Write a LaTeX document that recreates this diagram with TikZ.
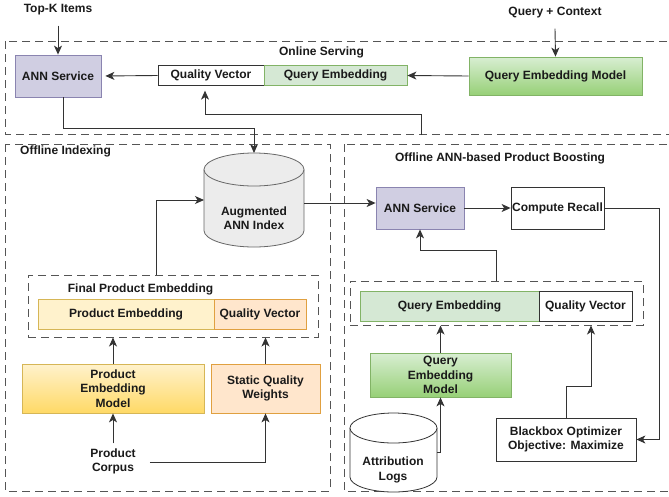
\documentclass[tikz,border=0pt]{standalone}
\usepackage{fontspec}
\setmainfont{Liberation Sans}
\usetikzlibrary{arrows.meta,calc}
\definecolor{txtc}{HTML}{1A1A1A}
\definecolor{linec}{HTML}{333333}
\definecolor{dashc}{HTML}{555555}
\definecolor{lav}{HTML}{D0CEE2}
\definecolor{lavd}{HTML}{8A84B0}
\definecolor{grnf}{HTML}{D5E8D4}
\definecolor{grnd}{HTML}{82B366}
\definecolor{grnt}{HTML}{D8EED2}
\definecolor{grnb}{HTML}{97D077}
\definecolor{yelf}{HTML}{FFF2CC}
\definecolor{yeld}{HTML}{D6B656}
\definecolor{yelb}{HTML}{FFD966}
\definecolor{orgf}{HTML}{FFE6CC}
\definecolor{orgd}{HTML}{E0A040}
\definecolor{cylg}{HTML}{ECECEC}
\definecolor{cyld}{HTML}{666666}
\newcommand\mycyl[7]{% x1 x2 y1 y2 ry fill draw
  \pgfmathsetmacro\cxa{#1}\pgfmathsetmacro\cxb{#2}%
  \pgfmathsetmacro\cxc{(#1+#2)/2}\pgfmathsetmacro\crx{(#2-#1)/2}%
  \pgfmathsetmacro\cyt{#3+#5}\pgfmathsetmacro\cyb{#4-#5}%
  \pgfmathsetmacro\kx{0.5523*\crx}\pgfmathsetmacro\ky{0.5523*#5}%
  \pgfmathsetmacro\cybk{\cyb+\ky}%
  \fill[#6] (\cxa,\cyt) -- (\cxa,\cyb) .. controls (\cxa,\cybk) and (\cxc-\kx,#4) .. (\cxc,#4) .. controls (\cxc+\kx,#4) and (\cxb,\cybk) .. (\cxb,\cyb) -- (\cxb,\cyt) -- cycle;
  \draw[#7, line width=0.8pt] (\cxa,\cyt) -- (\cxa,\cyb) .. controls (\cxa,\cybk) and (\cxc-\kx,#4) .. (\cxc,#4) .. controls (\cxc+\kx,#4) and (\cxb,\cybk) .. (\cxb,\cyb) -- (\cxb,\cyt);
  \draw[#7, fill=#6, line width=0.8pt] (\cxc,\cyt) ellipse [x radius=\crx, y radius=#5];
}
\begin{document}
\begin{tikzpicture}[x=1pt,y=-1pt,
  txt/.style={font=\fontsize{12}{14.5}\selectfont\bfseries, text=txtc, align=center, inner sep=0pt},
  box/.style={txt, draw, line width=0.8pt},
  anchorbox/.style={inner sep=0pt, outer sep=0pt},
  conn/.style={draw=linec, line width=0.9pt, -{Stealth[length=9pt,width=8pt,inset=2.5pt]}},
  region/.style={draw=dashc, line width=1pt, dash pattern=on 8pt off 5pt},
]
\useasboundingbox (0,0) rectangle (669,496);
\fill[white] (0,0) rectangle (669,496);

% regions
\draw[region] (5,41) rectangle (672,134);
\draw[region] (5,144) rectangle (330,491);
\draw[region] (344,144) rectangle (672,491);
\node[txt] (lonl) at (321.5,52) {Online Serving};
\node[txt, anchor=west] (loff) at (20,151) {Offline Indexing};
\node[txt] (lboost) at (500,158) {Offline ANN-based Product Boosting};

% top texts
\node[txt] (topk) at (58,10) {Top-K Items};
\node[txt] (qc) at (555,13) {Query + Context};

% online serving
\node[box, fill=lav, draw=lavd, minimum width=86, minimum height=42] (ann1) at (58,76) {ANN Service};
\node[box, fill=white, draw=linec, minimum width=106, minimum height=19.5] (qv1) at (211,75.5) {Quality Vector};
\node[box, fill=grnf, draw=grnd, minimum width=143, minimum height=19.5] (qe1) at (335.5,75.5) {Query Embedding};
\node[box, top color=grnt, bottom color=grnb, draw=grnd, minimum width=173, minimum height=38] (qem1) at (555.5,76) {Query Embedding Model};
\coordinate (c1) at (421,135);

% offline indexing
\mycyl{204}{304}{153}{247}{16.5}{cylg}{cyld}
\node[anchorbox, minimum width=100, minimum height=94] (cyl1) at (254,200) {};
\node[txt] (cyl1t) at (254,218) {Augmented\\ANN Index};
\node[region, minimum width=290, minimum height=62, inner sep=0pt] (grp1) at (173,306) {};
\node[txt] (lfpe) at (140.5,289) {Final Product Embedding};
\node[box, fill=yelf, draw=yeld, minimum width=176, minimum height=30] (pe) at (126,314) {Product Embedding};
\node[box, fill=orgf, draw=orgd, minimum width=92, minimum height=30] (qv3) at (260,314) {Quality Vector};
\node[box, top color=yelf, bottom color=yelb, draw=yeld, minimum width=182, minimum height=49] (pem) at (113,388.5) {Product\\Embedding\\Model};
\node[box, fill=orgf, draw=orgd, minimum width=109, minimum height=49] (sqw) at (265.5,388.5) {Static Quality\\Weights};
\node[txt] (pc) at (113,461.5) {Product\\Corpus};

% offline boosting
\node[box, fill=lav, draw=lavd, minimum width=88, minimum height=42] (ann2) at (420,208) {ANN Service};
\node[box, fill=white, draw=linec, minimum width=93, minimum height=42] (cr) at (557.5,208) {Compute Recall};
\node[region, minimum width=293, minimum height=44, inner sep=0pt] (grp2) at (496.5,303) {};
\node[box, fill=grnf, draw=grnd, minimum width=179, minimum height=30] (qe2) at (449.5,306) {Query Embedding};
\node[box, fill=white, draw=linec, minimum width=93, minimum height=30] (qv2) at (585.5,306) {Quality Vector};
\node[box, top color=grnt, bottom color=grnb, draw=grnd, minimum width=141, minimum height=44] (qem2) at (440.5,375) {Query\\Embedding\\Model};
\mycyl{350}{437}{413}{492}{15}{white}{linec}
\node[anchorbox, minimum width=87, minimum height=79] (cyl2) at (393.5,452.5) {};
\node[txt] (cyl2t) at (393,470) {Attribution\\Logs};
\node[box, fill=white, draw=linec, minimum width=140, minimum height=43] (bb) at (566,439.5) {Blackbox Optimizer\\Objective: Maximize};

% connectors
\draw[conn] ($(topk.south)+(0,10)$) -- (ann1.north);
\draw[conn, shorten >=4pt] (qv1.west) -- (ann1.east);
\draw[conn] ($(qc.south)+(0,10)$) -- (qem1.north);
\draw[conn] (qem1.west) -- (qe1.east);
\draw[conn, shorten >=5pt] (c1) -- ++(0,-21) -| ($(qv1.south)+(-6,0)$);
\draw[conn] ($(ann1.south)+(5,0)$) -- ++(0,31) -| (cyl1.north);
\draw[conn] ($(grp1.north)+(-17,0)$) |- (cyl1.west);
\coordinate (c8) at (304,203);
\draw[conn] (c8) -- (c8 -| ann2.west);
\draw[conn] (ann2.east) -- (cr.west);
\draw[conn] (cr.east) -- ++(55,0) |- (bb.east);
\draw[conn] (grp2.north) -- ++(0,-30) -| (ann2.south);
\draw[conn] (qem2.north) -- (qem2.north |- grp2.south);
\draw[conn] (cyl2.east) -| (qem2.south);
\path (grp2.south) ++(94.5,0) coordinate (c14);
\draw[conn] (bb.north) -- ++(0,-31) -| (c14);
\draw[conn] (pem.north) -- (pem.north |- grp1.south);
\draw[conn] (sqw.north) -- (sqw.north |- grp1.south);
\draw[conn] ($(pc.north)+(0,-5)$) -- (pem.south);
\draw[conn] ($(pc.east)+(14,0.5)$) -| (sqw.south);
\end{tikzpicture}
\end{document}
